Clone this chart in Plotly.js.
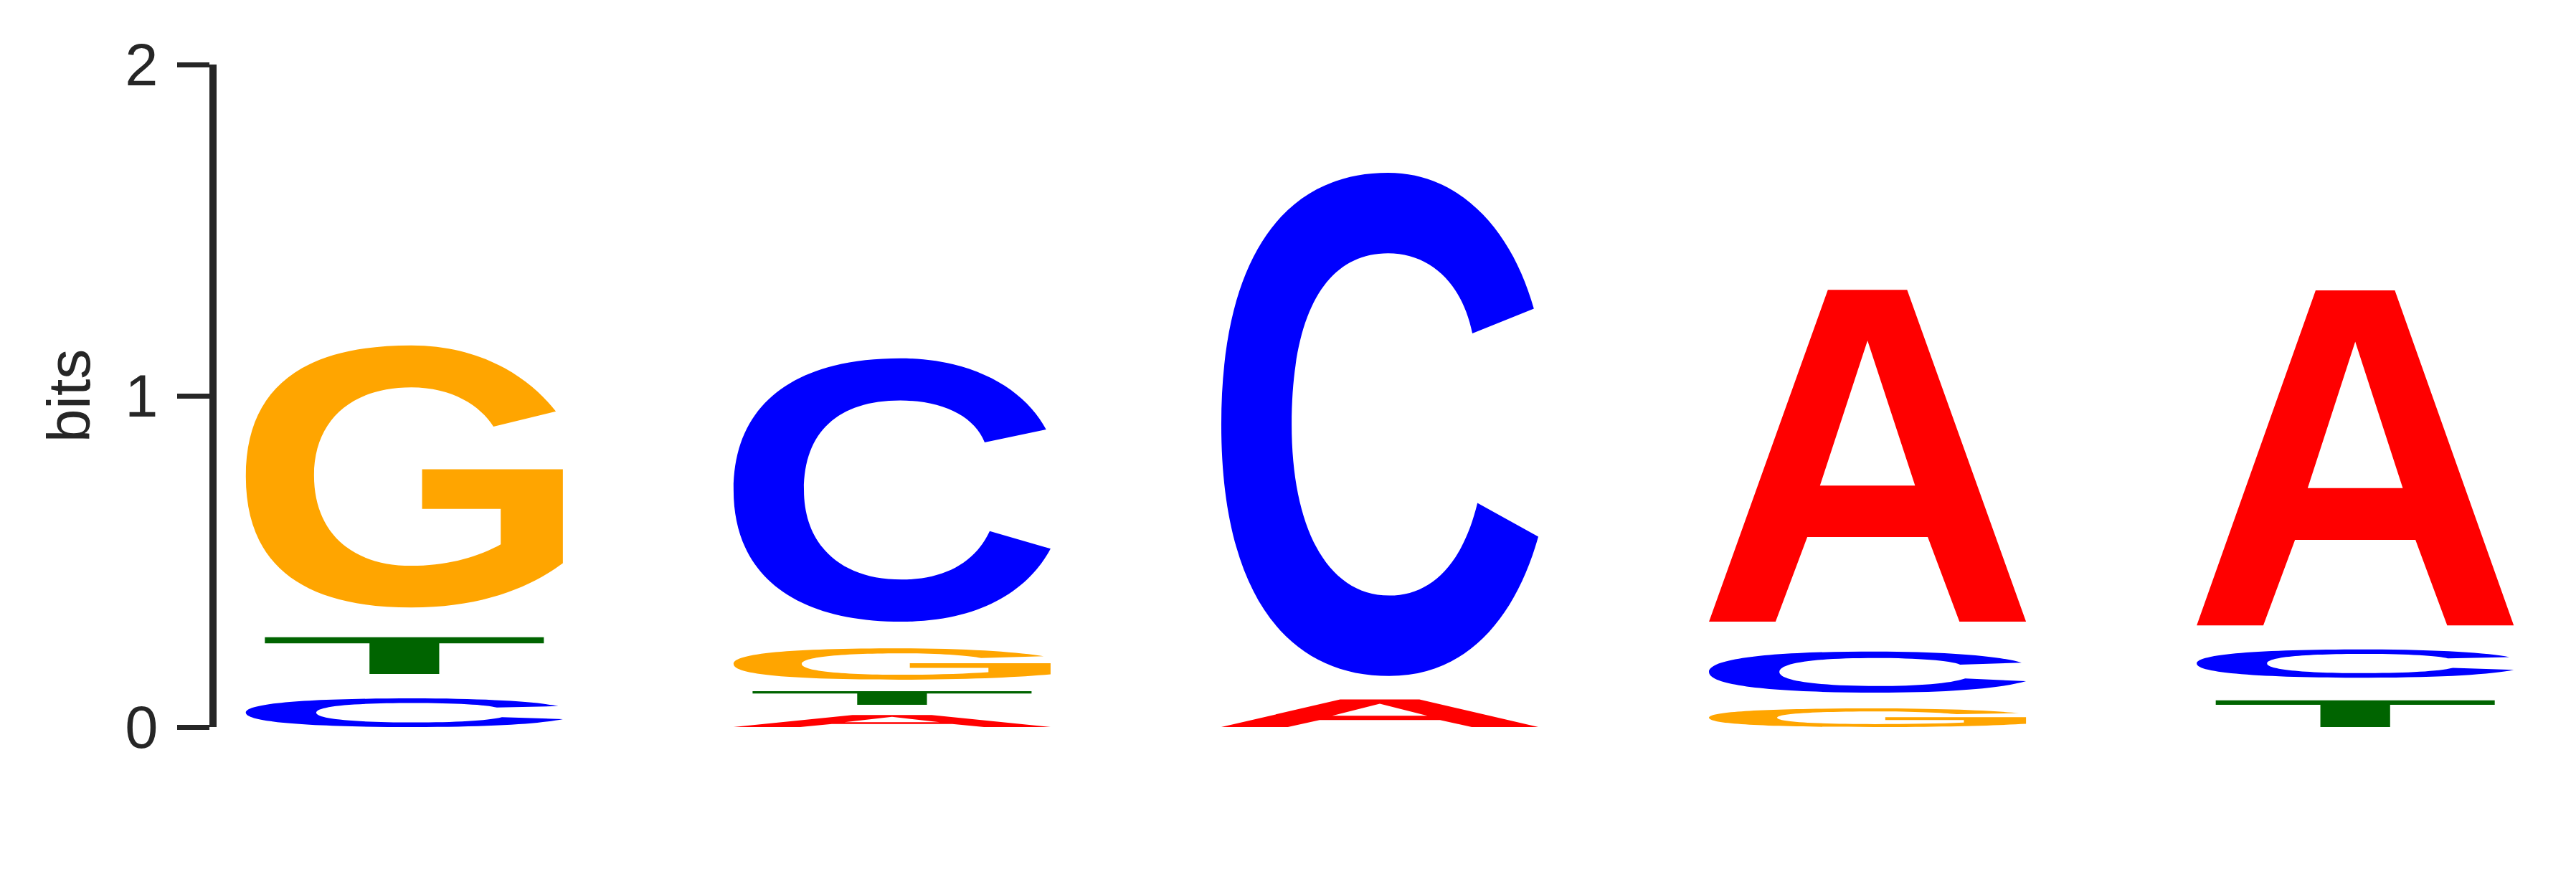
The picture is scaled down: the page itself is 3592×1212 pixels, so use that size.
<!DOCTYPE html>
<html>
<head>
<meta charset="utf-8">
<script src="https://cdn.plot.ly/plotly-3.0.1.min.js"></script>
<style>
html, body { margin: 0; padding: 0; background: #fff; }
#logo { width: 3592px; height: 1212px; }
</style>
</head>
<body>
<div id="logo"></div>
<script>
// sequence logo, 5 positions, letter heights in bits (stack order = smallest at bottom)
var positions = [1, 2, 3, 4, 5]
var letters = ['A', 'C', 'G', 'T']
var bits_A = [0, 0.067, 0.154, 1.092, 1.101]
var bits_C = [0.160, 0.885, 1.609, 0.214, 0.158]
var bits_G = [0.881, 0.175, 0, 0.104, 0]
var bits_T = [0.201, 0.076, 0, 0, 0.149]
var y_ticks = [0, 1, 2]
var y_label = 'bits'

var heights = { A: bits_A, C: bits_C, G: bits_G, T: bits_T }
var colors = { A: '#ff0000', C: '#0000ff', G: '#ffa500', T: '#006400' }

// glyph outlines in a unit box (x 0..1, y 0..1, y up), bold sans style
var glyphs = {
    A: [['M', 0, 0], ['L', 0.21, 0], ['L', 0.31, 0.255], ['L', 0.69, 0.255], ['L', 0.79, 0], ['L', 1, 0],
        ['L', 0.625, 1], ['L', 0.375, 1], ['Z'],
        ['M', 0.35, 0.41], ['L', 0.65, 0.41], ['L', 0.5, 0.847], ['Z']],
    C: [['M', 0.986, 0.730], ['C', 0.92, 0.88, 0.76, 1, 0.526, 1], ['C', 0.196, 1, 0, 0.83, 0, 0.5],
        ['C', 0, 0.17, 0.2, 0, 0.53, 0], ['C', 0.78, 0, 0.93, 0.12, 1, 0.277], ['L', 0.808, 0.344],
        ['C', 0.76, 0.22, 0.66, 0.16, 0.53, 0.16], ['C', 0.33, 0.16, 0.222, 0.3, 0.222, 0.5],
        ['C', 0.222, 0.72, 0.33, 0.84, 0.526, 0.84], ['C', 0.66, 0.84, 0.76, 0.78, 0.792, 0.681], ['Z']],
    G: [['M', 0.978, 0.748], ['C', 0.9, 0.87, 0.75, 1, 0.522, 1], ['C', 0.18, 1, 0, 0.84, 0, 0.5],
        ['C', 0, 0.16, 0.18, 0, 0.522, 0], ['C', 0.75, 0, 0.9, 0.08, 1, 0.169], ['L', 1, 0.527],
        ['L', 0.556, 0.527], ['L', 0.556, 0.376], ['L', 0.804, 0.376], ['L', 0.804, 0.241],
        ['C', 0.73, 0.19, 0.63, 0.159, 0.522, 0.159], ['C', 0.33, 0.159, 0.215, 0.29, 0.215, 0.504],
        ['C', 0.215, 0.71, 0.33, 0.84, 0.522, 0.84], ['C', 0.65, 0.84, 0.74, 0.77, 0.781, 0.69], ['Z']],
    T: [['M', 0.06, 1], ['L', 0.94, 1], ['L', 0.94, 0.835], ['L', 0.61, 0.835], ['L', 0.61, 0],
        ['L', 0.39, 0], ['L', 0.39, 0.835], ['L', 0.06, 0.835], ['Z']]
}

var letter_width = 0.65

function glyph_path(cmds, xc, w, y0, h) {
    var left = xc - w / 2
    var out = []
    cmds.forEach(function (c) {
        var pts = []
        for (var k = 1; k < c.length; k += 2) {
            var px = left + c[k] * w
            var py = y0 + c[k + 1] * h
            pts.push(px.toFixed(4) + ',' + py.toFixed(4))
        }
        out.push(c[0] + pts.join(' '))
    })
    return out.join(' ')
}

var shapes = []
positions.forEach(function (pos, i) {
    var stack = letters
        .map(function (l) { return { l: l, h: heights[l][i] } })
        .filter(function (d) { return d.h > 0 })
        .sort(function (a, b) { return a.h - b.h })
    var floor = 0
    stack.forEach(function (d) {
        var pad = Math.min(0.46 * d.h, 0.09)
        shapes.push({
            type: 'path',
            xref: 'x',
            yref: 'y',
            path: glyph_path(glyphs[d.l], pos, letter_width, floor, d.h - pad),
            fillcolor: colors[d.l],
            fillrule: 'evenodd',
            line: { width: 0 },
            layer: 'above'
        })
        floor += d.h
    })
})

var font_family = 'Liberation Sans, Arial, sans-serif'
var ink = '#262626'

var trace_data = [{
    x: positions,
    y: positions.map(() => 0),
    type: 'scatter',
    mode: 'markers',
    marker: { opacity: 0 },
    hoverinfo: 'skip'
}]

var layout = {
    width: 3592,
    height: 1212,
    margin: { l: 302, r: 80, t: 90, b: 198 },
    paper_bgcolor: '#ffffff',
    plot_bgcolor: '#ffffff',
    showlegend: false,
    xaxis: { range: [0.615, 5.335], visible: false },
    yaxis: {
        range: [0, 2],
        tickvals: y_ticks,
        ticktext: y_ticks.map(String),
        ticks: 'outside',
        ticklen: 45,
        tickwidth: 7,
        tickcolor: ink,
        ticklabelstandoff: 10,
        showline: true,
        linewidth: 10,
        linecolor: ink,
        showgrid: false,
        zeroline: false,
        tickfont: { family: font_family, size: 83, color: ink },
        title: { text: y_label, font: { family: font_family, size: 84, color: ink }, standoff: 25 }
    },
    shapes: shapes
}

Plotly.newPlot('logo', trace_data, layout, { displayModeBar: false, staticPlot: true })
</script>
</body>
</html>
